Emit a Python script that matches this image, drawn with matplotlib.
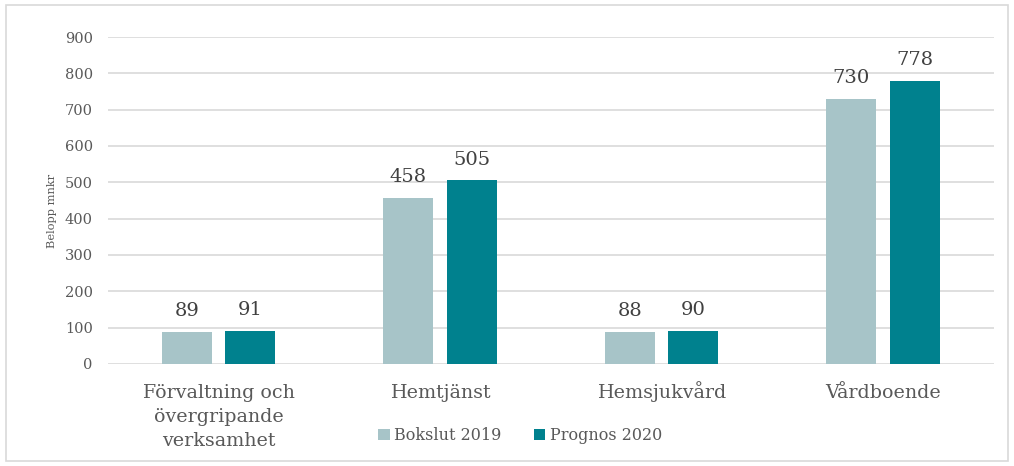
import matplotlib.pyplot as plt
import numpy as np
from matplotlib.patches import Rectangle
from matplotlib.transforms import offset_copy

categories = ['Förvaltning och\növergripande\nverksamhet', 'Hemtjänst', 'Hemsjukvård', 'Vårdboende']
bokslut_2019 = [89, 458, 88, 730]
prognos_2020 = [91, 505, 90, 778]
series_names = ['Bokslut 2019', 'Prognos 2020']

light = '#A7C4C8'
dark = '#00818E'
txt = '#595959'

plt.rcParams['font.family'] = ['DejaVu Serif']

fig = plt.figure(figsize=(10.14, 4.66), dpi=100)
ax = fig.add_axes([0.1065, 0.219, 0.8735, 0.7016])

x = np.arange(len(categories))
w = 0.226
b1 = ax.bar(x - 0.143, bokslut_2019, w, color=light, label=series_names[0], zorder=3)
b2 = ax.bar(x + 0.143, prognos_2020, w, color=dark, label=series_names[1], zorder=3)

for bars in (b1, b2):
    for rect in bars:
        ax.annotate(f'{int(rect.get_height())}',
                    (rect.get_x() + rect.get_width() / 2, rect.get_height()),
                    xytext=(0, 11.5), textcoords='offset points',
                    ha='center', va='baseline', fontsize=14, color='#404040')

ax.set_xlim(-0.5, 3.5)
ax.set_ylim(0, 900)
ax.set_yticks(range(0, 901, 100))
ax.yaxis.grid(True, color='#D9D9D9', linewidth=1.2, zorder=0)
ax.set_xticks(x)
ax.set_xticklabels([])
# category labels, one line at a time on fixed baselines (pixels below the axis)
for xi, cat in zip(x, categories):
    for i, line in enumerate(cat.split('\n')):
        tr = offset_copy(ax.get_xaxis_transform(), fig=fig, x=0, y=-(34 + 24 * i), units='dots')
        ax.text(xi, 0, line, transform=tr, ha='center', va='baseline',
                fontsize=13.7, color=txt)
ax.tick_params(axis='y', labelsize=10.5, labelcolor=txt, length=0, pad=11)
ax.tick_params(axis='x', length=0)
for s in ax.spines.values():
    s.set_visible(False)
ax.set_ylabel('Belopp mnkr', fontsize=8.2, color=txt)
ax.yaxis.set_label_coords(-0.058, 0.468)

fig.legend(handles=[b1, b2], labels=series_names, loc='center',
           bbox_to_anchor=(0.513, 0.066), ncol=2, frameon=False,
           fontsize=11.5, labelcolor=txt, handlelength=0.7, handleheight=0.7,
           handletextpad=0.3, columnspacing=2.0)

fig.patches.append(Rectangle((6 / 1014, 5 / 466), 1002 / 1014, 456 / 466,
                             transform=fig.transFigure, fill=False,
                             edgecolor='#D9D9D9', linewidth=1.2))

fig.savefig('out.png', dpi=100)
